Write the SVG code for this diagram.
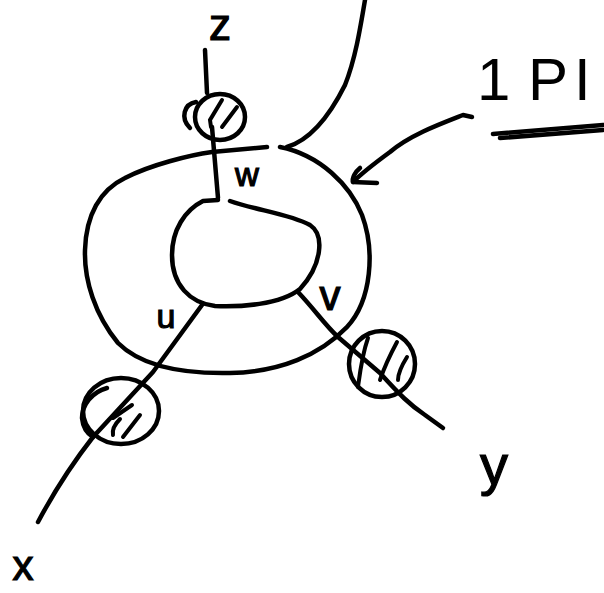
<svg xmlns="http://www.w3.org/2000/svg" width="604" height="593" viewBox="0 0 604 593">
<style>
.s{fill:none;stroke:#000;stroke-width:4.5;stroke-linecap:round;stroke-linejoin:round}
.h{fill:none;stroke:#000;stroke-width:4;stroke-linecap:round}
.t{font-family:"Liberation Sans",Arial,sans-serif;fill:#000;stroke:#000;stroke-width:1.2;text-anchor:middle}
</style>
<rect width="604" height="593" fill="#fff"/>
<g id="loop">
<path class="s" d="M 280 147 C 320 155, 350 185, 362 215 C 375 250, 372 300, 347 327 C 320 355, 280 372, 230 373 C 180 374, 140 365, 118 343 C 95 315, 84 280, 85 250 C 86 215, 100 190, 125 178 C 150 165, 190 155, 212 152 L 267 147"/>
<path class="s" d="M 230 201 C 255 210, 290 214, 310 225 C 325 235, 322 265, 300 289 C 280 305, 240 307, 215 306 C 190 303, 172 285, 172 255 C 172 230, 185 210, 203 201 L 218 200"/>
</g>
<g id="connectors">
<path class="s" d="M 287 147 C 310 140, 330 115, 345 85 C 355 60, 360 30, 365 0"/>
<path class="s" d="M 205 50 L 207 93"/>
<path class="s" d="M 212 127 L 218 198"/>
<path class="s" d="M 202 305 L 153 372 L 93 437 C 75 460, 55 490, 38 522"/>
<path class="s" d="M 298 292 C 315 310, 325 325, 338 337 L 380 373 C 400 395, 410 405, 425 415 L 443 428"/>
<path class="s" d="M 472 117 L 463 115 C 440 124, 410 135, 390 152 C 375 163, 362 173, 353 182"/>
<path class="s" d="M 360 168 C 355 172, 352 178, 353 182 L 377 183"/>
</g>
<g id="node-z">
<ellipse class="s" cx="220" cy="117" rx="25" ry="23"/>
<path class="s" d="M 196 102 C 184 104, 180 118, 190 128"/>
<path class="h" d="M 222 100 L 210 120 L 211 127"/>
<path class="h" d="M 237 107 L 222 127"/>
</g>
<g id="node-x">
<ellipse class="s" cx="121" cy="411" rx="38" ry="33"/>
<path class="s" d="M 107 388 C 92 392, 82 405, 82 418 C 83 428, 88 434, 93 437"/>
<path class="h" d="M 132 405 L 113 418"/>
<path class="h" d="M 140 415 L 123 437"/>
<path class="h" d="M 120 419 C 114 425, 112 430, 113 435"/>
</g>
<g id="node-y">
<circle class="s" cx="382" cy="364" r="33"/>
<path class="h" d="M 368 338 C 362 355, 360 372, 358 387"/>
<path class="h" d="M 397 342 C 390 355, 384 368, 380 380"/>
<path class="h" d="M 407 357 C 402 365, 398 372, 398 380"/>
</g>
<g id="labels">
<text class="t" x="220" y="40" font-size="44">z</text>
<text class="t" x="247" y="186" font-size="33">w</text>
<text class="t" x="166" y="328" font-size="34">u</text>
<text class="t" x="330" y="310" font-size="42">v</text>
<text class="t" x="23" y="580" font-size="42">x</text>
<text class="t" x="494" y="484" font-size="56">y</text>
<text font-family="'Liberation Sans',Arial,sans-serif" font-size="60" fill="#000" x="477" y="100">1<tspan x="528">P</tspan><tspan x="574">I</tspan></text>
<path class="s" d="M 493 134 L 603 125"/>
<path class="s" d="M 500 138 L 603 130"/>
</g>
</svg>
